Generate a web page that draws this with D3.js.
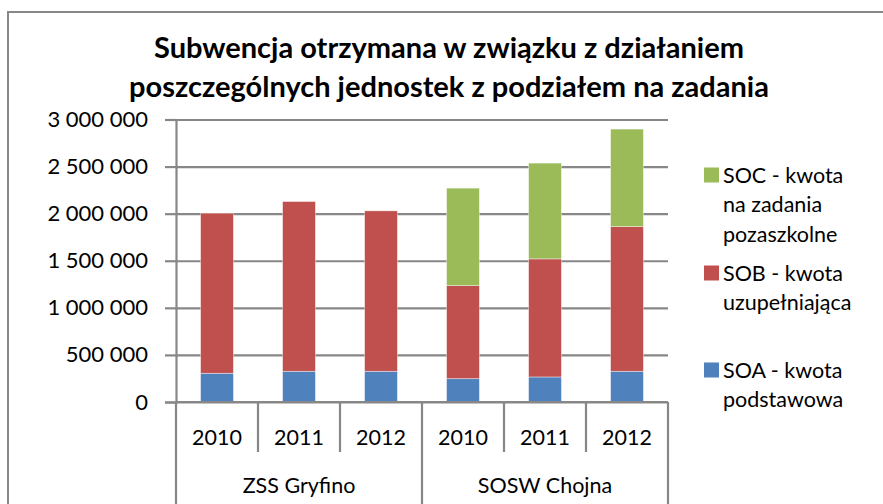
<!doctype html>
<html>
  <head>
    <meta charset="utf-8">
    <script src="https://cdnjs.cloudflare.com/ajax/libs/d3/7.8.5/d3.min.js"></script>
    <style>
      body { margin: 0; background: #fff; }
      text { font-family: Lato, "Open Sans", sans-serif; fill: #000; }
    </style>
  </head>
  <body>
    <svg id="chart" width="883" height="504"></svg>
    <script>
        // data
        var groups = ["ZSS Gryfino", "SOSW Chojna"];
        var years = ["2010", "2011", "2012"];
        var soa = [305000, 326000, 326000, 248000, 266000, 326000];
        var sob = [1700000, 1803000, 1704000, 988000, 1254000, 1537000];
        var soc = [0, 0, 0, 1035000, 1017000, 1035000];
        var yTicks = [0, 500000, 1000000, 1500000, 2000000, 2500000, 3000000];
        var seriesNames = ["SOA - kwota podstawowa", "SOB - kwota uzupełniająca", "SOC - kwota na zadania pozaszkolne"];
        var colors = ["#4F81BD", "#C0504D", "#9BBB59"];

        var rows = [];
        groups.forEach((g, gi) => years.forEach((y, yi) => {
            var i = gi * years.length + yi;
            rows.push({key: g + "|" + y, group: g, year: y, soa: soa[i], sob: sob[i], soc: soc[i]});
        }));

        var svg = d3.select("#chart");
        var grid = "#878787";

        // outer chart frame (runs off the right and bottom edges)
        svg.append("rect")
            .attr("x", 8).attr("y", 12)
            .attr("width", 900).attr("height", 520)
            .attr("fill", "none").attr("stroke", "#888").attr("stroke-width", 2);

        // title
        var title = svg.append("text")
            .attr("text-anchor", "middle")
            .style("font-weight", "bold").style("font-size", "29px");
        title.append("tspan").attr("x", 449).attr("y", 58).text("Subwencja otrzymana w związku z działaniem");
        title.append("tspan").attr("x", 449).attr("y", 97).text("poszczególnych jednostek z podziałem na zadania");

        var plotLeft = 176, plotRight = 668, plotTop = 119.5, plotBottom = 402;

        var x = d3.scaleBand()
            .domain(rows.map(d => d.key))
            .range([plotLeft, plotRight])
            .paddingInner(0.6)
            .paddingOuter(0.3);

        var y = d3.scaleLinear().domain([0, 3000000]).range([plotBottom, plotTop]);

        var pl = d3.formatLocale({decimal: ",", thousands: " ", grouping: [3], currency: ["", ""]});

        // y axis with gridlines
        var yAxis = svg.append("g")
            .attr("transform", "translate(" + plotLeft + ",0)")
            .call(d3.axisLeft(y).tickValues(yTicks).tickFormat(pl.format(",")).tickSize(11).tickPadding(17));
        yAxis.select(".domain").attr("stroke", grid).attr("stroke-width", 2.2);
        yAxis.selectAll(".tick line").attr("stroke", grid).attr("stroke-width", 2.2);
        yAxis.selectAll(".tick text").style("font-size", "22px").attr("fill", "#000");
        yAxis.selectAll(".tick").append("line")
            .attr("x1", 0).attr("x2", plotRight - plotLeft)
            .attr("stroke", grid).attr("stroke-width", 2.2);

        // stacked bars
        var stack = d3.stack().keys(["soa", "sob", "soc"]);
        svg.append("g").selectAll("g")
            .data(stack(rows))
            .enter()
            .append("g")
                .attr("fill", (d, i) => colors[i])
            .selectAll("rect")
            .data(d => d.filter(p => p[1] > p[0]))
            .enter()
            .append("rect")
                .attr("x", d => x(d.data.key))
                .attr("width", x.bandwidth())
                .attr("y", d => y(d[1]))
                .attr("height", d => y(d[0]) - y(d[1]))
                .attr("stroke", "rgba(255,255,255,0.5)")
                .attr("stroke-width", 0.8);

        // x axis: baseline, year ticks and group ticks
        var xa = svg.append("g");
        xa.append("line")
            .attr("x1", plotLeft).attr("x2", plotRight).attr("y1", plotBottom).attr("y2", plotBottom)
            .attr("stroke", grid).attr("stroke-width", 2.2);
        var step = x.step();
        var bounds = d3.range(rows.length + 1).map(i => plotLeft + i * step);
        xa.selectAll("line.b")
            .data(bounds)
            .enter()
            .append("line")
                .attr("class", "b")
                .attr("x1", d => d).attr("x2", d => d)
                .attr("y1", plotBottom)
                .attr("y2", (d, i) => i % years.length == 0 ? 510 : 452)
                .attr("stroke", grid).attr("stroke-width", 2.2);
        xa.selectAll("text.year")
            .data(rows)
            .enter()
            .append("text")
                .attr("class", "year")
                .attr("x", d => x(d.key) + x.bandwidth() / 2)
                .attr("y", 445)
                .attr("text-anchor", "middle")
                .style("font-size", "21.5px")
                .text(d => d.year);
        xa.selectAll("text.group")
            .data(groups)
            .enter()
            .append("text")
                .attr("class", "group")
                .attr("x", (d, i) => plotLeft + (i + 0.5) * years.length * step)
                .attr("y", 493)
                .attr("text-anchor", "middle")
                .style("font-size", "21.5px")
                .text(d => d);

        // legend (top entry is the top of the stack)
        var legendLines = [
            ["SOC - kwota", "na zadania", "pozaszkolne"],
            ["SOB - kwota", "uzupełniająca"],
            ["SOA - kwota", "podstawowa"]
        ];
        var legendColors = [colors[2], colors[1], colors[0]];
        var legendTop = [175, 273, 370];
        var legend = svg.append("g");
        legendLines.forEach((lines, i) => {
            legend.append("rect")
                .attr("x", 704).attr("y", legendTop[i] - 7.5)
                .attr("width", 15).attr("height", 15)
                .attr("fill", legendColors[i]);
            var t = legend.append("text").style("font-size", "21.5px");
            lines.forEach((s, j) => {
                t.append("tspan")
                    .attr("x", 723)
                    .attr("y", legendTop[i] + 7.5 + j * 29.5)
                    .text(s);
            });
        });
    </script>
  </body>
</html>
